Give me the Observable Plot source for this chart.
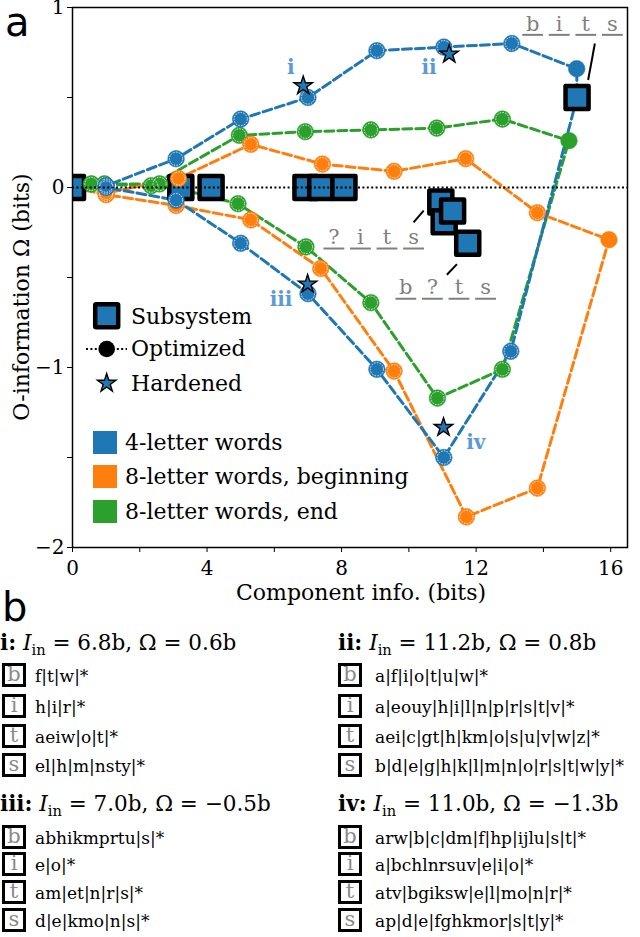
<!DOCTYPE html>
<html><head><meta charset="utf-8">
<script src="https://cdn.jsdelivr.net/npm/d3@7"></script>
<script src="https://cdn.jsdelivr.net/npm/@observablehq/plot@0.6"></script>
<style>
html,body{margin:0;padding:0;background:#fff;}
#wrap{position:relative;width:640px;height:937px;overflow:hidden;font-family:"DejaVu Serif","Liberation Serif",serif;color:#000;}
#chart{position:absolute;left:0;top:0;}
.abs{position:absolute;white-space:nowrap;line-height:1;}
.panel{font-family:"DejaVu Sans",sans-serif;font-size:40px;}
.lg{font-size:22px;transform:translateY(-50%);}
.hd{font-size:21.5px;transform:translateY(-50%);}
.hd sub{font-size:0.68em;vertical-align:-0.35em;line-height:0;}
.box{position:absolute;width:24px;height:24px;box-sizing:border-box;border:3px solid #000;color:#8a8a8a;font-size:21px;line-height:17px;text-align:center;}
.row{font-size:17px;transform:translateY(-50%);}
</style></head>
<body><div id="wrap"><div id="chart"></div></div>
<script>
// ---------- data ----------
const seriesNames  = ["4-letter words", "8-letter words, beginning", "8-letter words, end"];
const seriesColors = ["#1f77b4", "#ff7f0e", "#2ca02c"];
// optimized trajectories: [component info (bits), O-information (bits)]
const blueUpper   = [[0,0],[1.0,0.01],[3.08,0.16],[5.0,0.38],[7.0,0.50],[9.05,0.76],[11.04,0.78],[13.06,0.80],[14.99,0.66],[15.0,0.50]];
const blueLower   = [[0,0],[1.0,0.0],[3.08,-0.07],[5.0,-0.31],[7.0,-0.59],[9.05,-1.01],[11.04,-1.50],[13.03,-0.91],[15.0,0.50]];
const orangeUpper = [[0,0],[1.0,-0.03],[3.15,0.05],[5.3,0.24],[7.43,0.13],[9.56,0.09],[11.69,0.16],[13.82,-0.14],[15.95,-0.29]];
const orangeLower = [[0,0],[1.0,-0.04],[3.08,-0.10],[5.3,-0.18],[7.38,-0.45],[9.56,-1.02],[11.71,-1.83],[13.82,-1.67],[15.95,-0.29]];
const greenUpper  = [[0.56,0.02],[2.34,0.01],[4.96,0.29],[6.92,0.31],[8.87,0.32],[10.83,0.33],[12.78,0.38],[14.76,0.26]];
const greenLower  = [[0.56,0.02],[0.95,0.02],[2.59,0.02],[4.92,-0.09],[6.94,-0.33],[8.87,-0.64],[10.85,-1.17],[12.78,-1.01],[14.76,0.26]];
const fullSystemPts = [[14.99,0.66],[15.95,-0.29],[14.76,0.26]];
// subsystems (4-letter words)
const subsystems = [[0,0],[3.22,0],[4.12,0],[6.94,0],[7.38,0],[8.07,0],[10.95,-0.08],[11.05,-0.19],[11.3,-0.13],[11.75,-0.31],[15.0,0.50]];
// hardened solutions
const hardened    = [[6.86,0.565],[11.2,0.741],[6.99,-0.537],[11.03,-1.333]];
const romanLabels = ["i","ii","iii","iv"];
const romanPos    = [[6.49,0.667],[10.6,0.667],[6.2,-0.62],[11.99,-1.417]];
// annotated subsystems
const annoWords   = ["bits","?its","b?ts"];
const annoStart   = [[13.68,0.909],[7.77,-0.278],[9.91,-0.557]];
const annoLeaders = [[[15.53,0.80],[15.33,0.597]],[[10.14,-0.194],[10.44,-0.129]],[[11.13,-0.485],[11.43,-0.426]]];
// axes
const xTicks = [0,2,4,6,8,10,12,14,16];
const yTicks = [-2,-1.5,-1,-0.5,0,0.5,1];
// panel b
const letters    = ["b","i","t","s"];
const panelIds   = ["i","ii","iii","iv"];
const panelIin   = ["6.8","11.2","7.0","11.0"];
const panelOmega = ["0.6","0.8","\u22120.5","\u22121.3"];
const panelRows  = [
  ["f|t|w|*","h|i|r|*","aeiw|o|t|*","el|h|m|nsty|*"],
  ["a|f|i|o|t|u|w|*","a|eouy|h|i|l|n|p|r|s|t|v|*","aei|c|gt|h|km|o|s|u|v|w|z|*","b|d|e|g|h|k|l|m|n|o|r|s|t|w|y|*"],
  ["abhikmprtu|s|*","e|o|*","am|et|n|r|s|*","d|e|kmo|n|s|*"],
  ["arw|b|c|dm|f|hp|ijlu|s|t|*","a|bchlnrsuv|e|i|o|*","atv|bgiksw|e|l|mo|n|r|*","ap|d|e|fghkmor|s|t|y|*"]
];

// ---------- build ----------
const X = d => d[0], Y = d => d[1];
const key = d => d[0] + "," + d[1];
const subKeys = new Set(subsystems.map(key));
const fullKeys = new Set(fullSystemPts.map(key));
const branches = [[blueUpper, blueLower],[orangeUpper, orangeLower],[greenUpper, greenLower]];
const dash = "9,4";
const marks = [];
const drawOrder = [2,1,0];
for (const s of drawOrder) {
  for (const br of branches[s]) marks.push(Plot.line(br, {x:X, y:Y, stroke:seriesColors[s], strokeWidth:3, strokeDasharray:dash, clip:true}));
}
marks.push(Plot.dot(subsystems, {x:X, y:Y, symbol:"square", r:13, fill:seriesColors[0], stroke:"black", strokeWidth:4.5, strokeLinejoin:"round", clip:true}));
for (const s of drawOrder) {
  const seen = new Map();
  for (const br of branches[s]) for (const p of br) { const k = key(p); if (!subKeys.has(k) && !(p[0]===0 && p[1]===0)) seen.set(k, p); }
  const pts = [...seen.values()];
  marks.push(Plot.dot(pts, {x:X, y:Y, r:8.3, fill:seriesColors[s], stroke:seriesColors[s], strokeWidth:0.6}));
  marks.push(Plot.dot(pts.filter(p => !fullKeys.has(key(p))), {x:X, y:Y, r:6.6, fill:"none", stroke:"white", strokeWidth:0.8, strokeDasharray:"1.6,1.2"}));
}
marks.push(Plot.dot(hardened, {x:X, y:Y, symbol:"star", r:5.8, fill:seriesColors[0], stroke:"black", strokeWidth:1.4}));
marks.push(Plot.ruleY([0], {stroke:"black", strokeWidth:2, strokeDasharray:"2,2.4"}));
marks.push(Plot.text(romanPos.map((p,i)=>({x:p[0], y:p[1], t:romanLabels[i]})), {x:"x", y:"y", text:"t", fill:"#5b9bd5", fontWeight:"bold", fontSize:20, fontFamily:"DejaVu Serif"}));
const letterSpacing = 0.79, halfLine = 0.31, underGap = 0.061;
const annoLetters = [];
annoWords.forEach((w,i) => [...w].forEach((ch,j) => annoLetters.push({x:annoStart[i][0] + j*letterSpacing, y:annoStart[i][1], ch})));
marks.push(Plot.text(annoLetters, {x:"x", y:"y", text:"ch", fill:"#7f7f7f", fontSize:21, fontFamily:"DejaVu Serif"}));
marks.push(Plot.link(annoLetters, {x1:d=>d.x-halfLine, x2:d=>d.x+halfLine, y1:d=>d.y-underGap, y2:d=>d.y-underGap, stroke:"#7f7f7f", strokeWidth:2}));
marks.push(Plot.link(annoLeaders, {x1:d=>d[0][0], y1:d=>d[0][1], x2:d=>d[1][0], y2:d=>d[1][1], stroke:"black", strokeWidth:2}));
marks.push(Plot.frame({stroke:"black", strokeWidth:1.5}));

const fmtY = d => Number.isInteger(d) ? (d < 0 ? "\u2212" + (-d) : String(d)) : "";
const chart = Plot.plot({
  width:640, height:605,
  marginLeft:72, marginRight:13, marginTop:7, marginBottom:58,
  style:{fontFamily:"DejaVu Serif", fontSize:"20px", color:"black", background:"white", overflow:"visible"},
  x:{domain:[0,16.5], ticks:xTicks, tickFormat:d => d % 4 === 0 ? String(d) : "", tickSize:5, tickPadding:8, label:null},
  y:{domain:[-2,1], ticks:yTicks, tickFormat:fmtY, tickSize:5, tickPadding:3, label:null},
  marks
});
const wrap = document.getElementById("wrap");
document.getElementById("chart").appendChild(chart);

function addDiv(cls, html, style) {
  const d = document.createElement("div");
  d.className = "abs " + cls;
  d.innerHTML = html;
  Object.assign(d.style, style);
  wrap.appendChild(d);
  return d;
}
addDiv("panel", "a", {left:"5px", top:"2px"});
addDiv("panel", "b", {left:"2px", top:"587px"});
addDiv("lg", "Component info. (bits)", {left:"361px", top:"593px", transform:"translate(-50%,-50%)"});
addDiv("lg", "O-information \u03a9 (bits)", {left:"22px", top:"297px", transform:"translate(-50%,-50%) rotate(-90deg)"});

const starPath = d3.symbol(d3.symbolStar, Math.PI*5.8*5.8)();
const legSvg = `<svg width="60" height="100" style="position:absolute;left:77px;top:300px;overflow:visible">
  <rect x="18.2" y="4.2" width="23" height="23" rx="1" fill="${seriesColors[0]}" stroke="black" stroke-width="4.5" stroke-linejoin="round"/>
  <line x1="9" x2="50" y1="49" y2="49" stroke="black" stroke-width="2" stroke-dasharray="2,2.4"/>
  <circle cx="29.7" cy="49" r="8.3" fill="black"/>
  <path d="${starPath}" transform="translate(29.7,83.3)" fill="${seriesColors[0]}" stroke="black" stroke-width="1.4"/>
</svg>`;
const legDiv = document.createElement("div");
legDiv.innerHTML = legSvg;
wrap.appendChild(legDiv);
addDiv("lg", "Subsystem", {left:"131px", top:"317px"});
addDiv("lg", "Optimized", {left:"131px", top:"349px"});
addDiv("lg", "Hardened", {left:"131px", top:"384px"});
const swatchY = [442, 476, 511];
seriesNames.forEach((n,i) => {
  addDiv("", "", {left:"93px", top:(swatchY[i]-11.5)+"px", width:"24px", height:"23px", background:seriesColors[i]});
  addDiv("lg", n, {left:"125px", top:(swatchY[i]+1)+"px"});
});

const colX = [[0,2,35],[338,338,375]];
const headerY = [643, 804];
const rowY = [[675,706,736,765],[837,864,892,920]];
panelIds.forEach((id,p) => {
  const c = colX[p % 2], r = Math.floor(p / 2);
  addDiv("hd", `<b>${id}:</b>&nbsp;<i>I</i><sub>in</sub> = ${panelIin[p]}b, \u03a9 = ${panelOmega[p]}b`, {left:c[0]+"px", top:headerY[r]+"px"});
  letters.forEach((L,k) => {
    const cy = rowY[r][k];
    const b = document.createElement("div");
    b.className = "box"; b.textContent = L;
    Object.assign(b.style, {left:c[1]+"px", top:(cy-12)+"px"});
    wrap.appendChild(b);
    addDiv("row", panelRows[p][k], {left:c[2]+"px", top:(cy+1)+"px"});
  });
});
</script>
</body></html>
